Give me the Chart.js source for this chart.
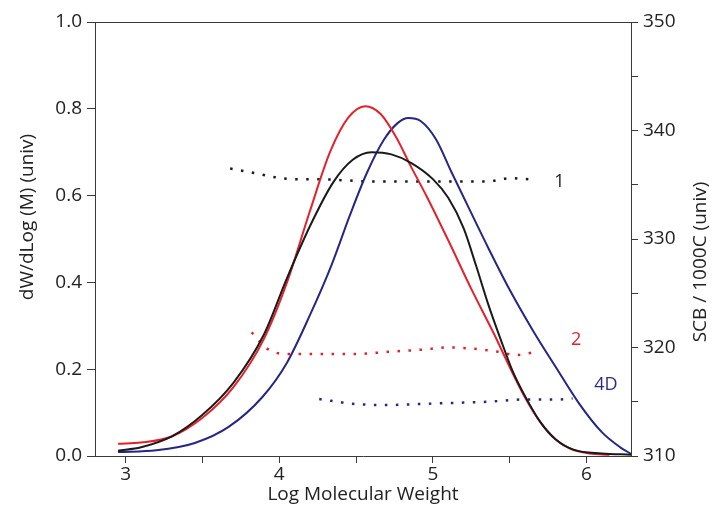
<!DOCTYPE html>
<html><head><meta charset="utf-8">
<script src="https://cdn.jsdelivr.net/npm/chart.js@4.4.1/dist/chart.umd.min.js"></script>
<style>html,body{margin:0;padding:0;background:#fff}</style>
</head><body>
<canvas id="c" width="717" height="515" style="width:717px;height:515px;display:block"></canvas>
<script>
// ---- data ----
const logM_1 = [2.95, 3.10, 3.30, 3.50, 3.70, 3.90, 4.05, 4.20, 4.35, 4.48, 4.60, 4.73, 4.86, 5.00, 5.10, 5.20, 5.28, 5.36, 5.44, 5.52, 5.60, 5.70, 5.80, 5.92, 6.10, 6.29];
const mwd_1  = [0.012, 0.020, 0.045, 0.095, 0.168, 0.280, 0.410, 0.530, 0.630, 0.683, 0.700, 0.695, 0.675, 0.638, 0.595, 0.525, 0.440, 0.350, 0.270, 0.195, 0.138, 0.078, 0.038, 0.014, 0.006, 0.003];

const logM_2 = [2.95, 3.10, 3.30, 3.50, 3.70, 3.90, 4.05, 4.20, 4.33, 4.45, 4.56, 4.66, 4.76, 4.86, 4.96, 5.10, 5.25, 5.40, 5.50, 5.60, 5.70, 5.80, 5.90, 6.02, 6.15];
const mwd_2  = [0.028, 0.031, 0.045, 0.088, 0.158, 0.270, 0.400, 0.565, 0.700, 0.780, 0.806, 0.788, 0.735, 0.665, 0.598, 0.497, 0.385, 0.280, 0.205, 0.135, 0.078, 0.038, 0.016, 0.006, 0.003];

const logM_4D = [2.95, 3.20, 3.45, 3.67, 3.89, 4.05, 4.20, 4.34, 4.46, 4.57, 4.68, 4.77, 4.84, 4.92, 5.02, 5.12, 5.24, 5.36, 5.50, 5.65, 5.80, 5.95, 6.10, 6.22, 6.29];
const mwd_4D  = [0.009, 0.013, 0.030, 0.067, 0.136, 0.215, 0.325, 0.440, 0.555, 0.652, 0.728, 0.767, 0.779, 0.772, 0.730, 0.655, 0.567, 0.480, 0.383, 0.290, 0.205, 0.122, 0.055, 0.020, 0.005];

const scbLogM_1 = [3.68, 3.83, 3.97, 4.12, 4.27, 4.44, 4.61, 4.79, 5.00, 5.13, 5.35, 5.50, 5.63];
const scb_1     = [336.5, 336.1, 335.7, 335.5, 335.5, 335.4, 335.3, 335.3, 335.3, 335.3, 335.3, 335.6, 335.5];

const scbLogM_2 = [3.82, 3.92, 4.05, 4.27, 4.49, 4.71, 4.93, 5.10, 5.25, 5.43, 5.54, 5.67];
const scb_2     = [321.4, 319.9, 319.4, 319.4, 319.4, 319.6, 319.8, 320.0, 319.9, 319.6, 319.3, 319.6];

const scbLogM_4D = [4.26, 4.49, 4.71, 4.93, 5.15, 5.36, 5.58, 5.80, 5.91];
const scb_4D     = [315.25, 314.8, 314.7, 314.8, 314.9, 315.0, 315.2, 315.2, 315.3];

const xTickValues = [3, 3.5, 4, 4.5, 5, 5.5, 6];
const xTickLabels = ['3', '', '4', '', '5', '', '6'];
const yLeftTicks  = ['0.0', '0.2', '0.4', '0.6', '0.8', '1.0'];
const yRightTickValues = [310, 315, 320, 325, 330, 335, 340, 345, 350];
const yRightTickLabels = ['310', '', '320', '', '330', '', '340', '', '350'];

const sampleNames   = ['1', '2', '4D'];
const sampleLabelX  = [5.79, 5.90, 6.05];
const sampleLabelY  = [335.3, 320.7, 316.6];

const xTitle = 'Log Molecular Weight';
const yLeftTitle = 'dW/dLog (M) (univ)';
const yRightTitle = 'SCB / 1000C (univ)';

// ---- styles ----
const C_BLACK = '#1a1a1a', C_RED = '#e2222b', C_BLUE = '#262683';
const labelColors = ['#222222', '#d8262f', '#2b2b86'];
const FONT = '"Open Sans", sans-serif';
const AX = '#3a3a3a';

const pts = (xs, ys) => xs.map((x, i) => ({x, y: ys[i]}));

const solid = (label, xs, ys, color) => ({
  label, data: pts(xs, ys), yAxisID: 'y', borderColor: color, backgroundColor: color,
  borderWidth: 2, pointRadius: 0, cubicInterpolationMode: 'monotone', fill: false
});
const dotted = (label, xs, ys, color) => ({
  label, data: pts(xs, ys), yAxisID: 'yR', borderColor: color, backgroundColor: color,
  borderWidth: 2.5, borderDash: [2.5, 8.5], borderCapStyle: 'butt', pointRadius: 0,
  cubicInterpolationMode: 'monotone', fill: false
});

const overlay = {
  id: 'overlay',
  afterDraw(chart) {
    const {ctx, chartArea: a, scales} = chart;
    ctx.save();
    ctx.strokeStyle = AX; ctx.lineWidth = 1;
    ctx.beginPath(); ctx.moveTo(a.left, a.top + 0.5); ctx.lineTo(a.right, a.top + 0.5); ctx.stroke();
    ctx.fillStyle = '#222';
    ctx.font = '19px ' + FONT;
    ctx.textAlign = 'center'; ctx.textBaseline = 'middle';
    ctx.save(); ctx.translate(28, 217); ctx.rotate(-Math.PI / 2); ctx.fillText(yLeftTitle, 0, 0); ctx.restore();
    ctx.save(); ctx.translate(701, 262); ctx.rotate(-Math.PI / 2); ctx.fillText(yRightTitle, 0, 0); ctx.restore();
    ctx.textAlign = 'left';
    ctx.font = '18px ' + FONT;
    sampleNames.forEach((t, i) => {
      ctx.fillStyle = labelColors[i];
      ctx.fillText(t, scales.x.getPixelForValue(sampleLabelX[i]), scales.yR.getPixelForValue(sampleLabelY[i]));
    });
    ctx.restore();
  }
};

new Chart(document.getElementById('c'), {
  type: 'line',
  data: {
    datasets: [
      solid('1', logM_1, mwd_1, C_BLACK),
      solid('2', logM_2, mwd_2, C_RED),
      solid('4D', logM_4D, mwd_4D, C_BLUE),
      dotted('SCB 1', scbLogM_1, scb_1, C_BLACK),
      dotted('SCB 2', scbLogM_2, scb_2, C_RED),
      dotted('SCB 4D', scbLogM_4D, scb_4D, C_BLUE)
    ]
  },
  options: {
    responsive: false, animation: false,
    layout: {padding: {top: 22, left: 0, right: 0, bottom: 0}},
    plugins: {legend: {display: false}, tooltip: {enabled: false}},
    scales: {
      x: {
        type: 'linear', position: 'bottom', min: 2.8, max: 6.29,
        afterBuildTicks: s => { s.ticks = xTickValues.map(v => ({value: v})); },
        afterFit: s => { s.height = 59; },
        ticks: {autoSkip: false, maxRotation: 0, padding: 0, color: '#222', font: {family: FONT, size: 19},
          callback: (v, i) => xTickLabels[i]},
        grid: {drawOnChartArea: false, drawTicks: true, tickLength: 7, tickColor: AX},
        border: {color: AX, width: 1},
        title: {display: true, text: xTitle, color: '#222', font: {family: FONT, size: 19}, padding: {top: 0, bottom: 9}}
      },
      y: {
        type: 'linear', position: 'left', min: 0, max: 1,
        afterBuildTicks: s => { s.ticks = yLeftTicks.map(v => ({value: parseFloat(v)})); },
        afterFit: s => { s.width = 95; },
        ticks: {autoSkip: false, padding: 5, color: '#222', font: {family: FONT, size: 19},
          callback: (v, i) => yLeftTicks[i]},
        grid: {drawOnChartArea: false, drawTicks: true, tickLength: 8, tickColor: AX},
        border: {color: AX, width: 1}
      },
      yR: {
        type: 'linear', position: 'right', min: 310, max: 350,
        afterBuildTicks: s => { s.ticks = yRightTickValues.map(v => ({value: v})); },
        afterFit: s => { s.width = 86; },
        ticks: {autoSkip: false, padding: 5, color: '#222', font: {family: FONT, size: 19},
          callback: (v, i) => yRightTickLabels[i]},
        grid: {drawOnChartArea: false, drawTicks: true, tickLength: 7, tickColor: AX},
        border: {color: AX, width: 1}
      }
    }
  },
  plugins: [overlay]
});
</script>
</body></html>
